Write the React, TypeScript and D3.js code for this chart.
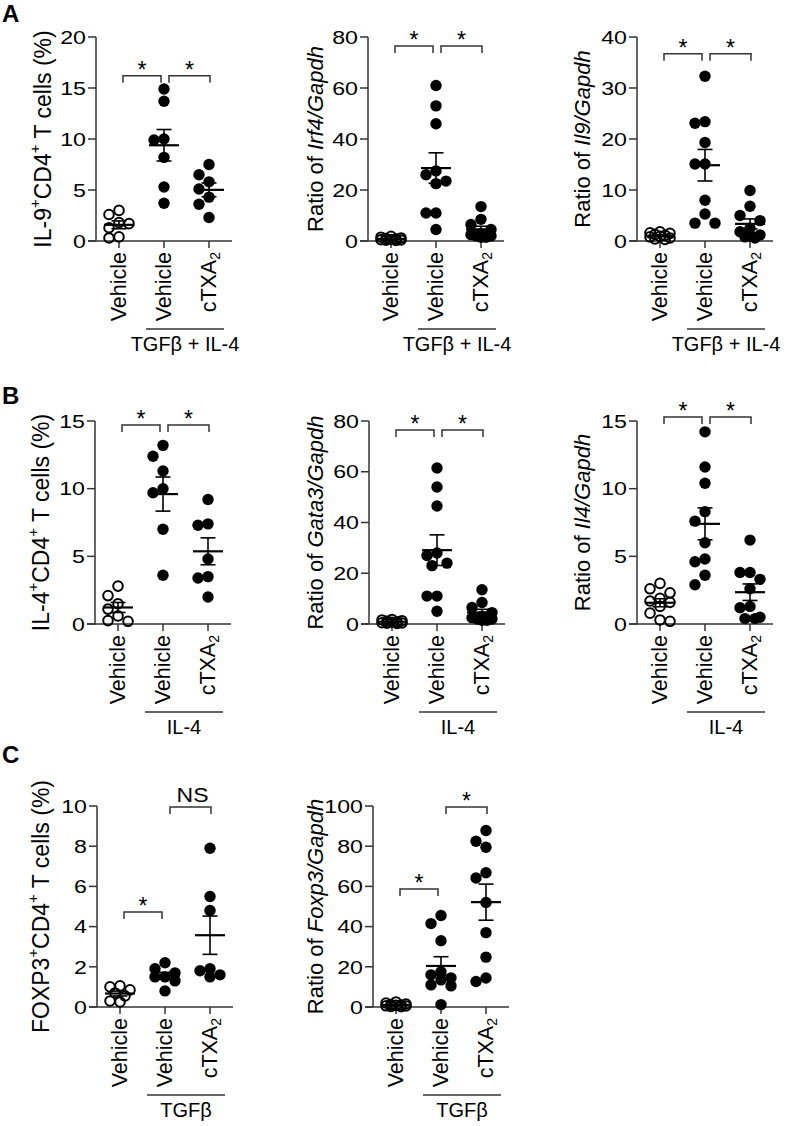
import React from "react";
import * as d3 from "d3";

// ---------- DATA ----------
const categoryLabels = ["Vehicle", "Vehicle", "cTXA|2"]; // "|2" = subscript 2

const ticks20 = [0, 5, 10, 15, 20];
const ticks80 = [0, 20, 40, 60, 80];
const ticks40 = [0, 10, 20, 30, 40];
const ticks15 = [0, 5, 10, 15];
const ticks10 = [0, 2, 4, 6, 8, 10];
const ticks100 = [0, 20, 40, 60, 80, 100];

// Panel A
const a1Vehicle = [3.0, 2.6, 1.8, 1.7, 1.3, 0.4, 0.3];
const a1TgfIl4Vehicle = [14.9, 13.7, 10.0, 9.9, 8.2, 5.3, 3.7];
const a1TgfIl4Ctxa = [7.5, 6.5, 5.8, 5.1, 4.3, 3.6, 2.3];
const a2Vehicle = [1.8, 1.5, 1.2, 1.0, 0.8, 0.6, 0.5, 0.4, 0.3, 0.2];
const a2TgfIl4Vehicle = [61, 53, 46, 27.5, 26, 23.5, 22.5, 11, 11, 4.5];
const a2TgfIl4Ctxa = [13.5, 8.5, 6.5, 4.5, 3, 2.5, 2, 2, 1.5, 1.5];
const a3Vehicle = [1.8, 1.6, 1.5, 1.3, 1.1, 0.9, 0.8, 0.6, 0.4, 0.3];
const a3TgfIl4Vehicle = [32.3, 23.4, 23.1, 19.3, 15.1, 15.1, 8.0, 5.3, 3.5, 3.5];
const a3TgfIl4Ctxa = [9.9, 6.8, 5.0, 4.0, 2.5, 1.8, 1.2, 1.0, 0.8, 0.6];

// Panel B
const b1Vehicle = [2.8, 2.1, 1.5, 1.1, 0.6, 0.25, 0.2];
const b1Il4Vehicle = [13.2, 12.4, 11.3, 10.0, 9.7, 7.0, 3.6];
const b1Il4Ctxa = [9.2, 7.4, 7.3, 4.8, 3.5, 3.4, 2.0];
const b2Vehicle = [1.8, 1.6, 1.3, 1.1, 0.9, 0.7, 0.5, 0.4, 0.3, 0.2];
const b2Il4Vehicle = [61.5, 54, 46.5, 28, 27, 24, 23, 11, 11, 5];
const b2Il4Ctxa = [13.5, 8.5, 6.5, 4.5, 3, 2.5, 2, 2, 1.5, 1.5];
const b3Vehicle = [3.0, 2.6, 2.3, 1.9, 1.7, 1.6, 1.3, 0.8, 0.3, 0.2];
const b3Il4Vehicle = [14.2, 11.6, 10.4, 8.3, 7.6, 6.0, 4.8, 4.6, 3.6, 2.9];
const b3Il4Ctxa = [6.2, 3.8, 3.8, 3.3, 2.6, 1.3, 1.2, 0.5, 0.4, 0.4];

// Panel C
const c1Vehicle = [1.05, 1.0, 0.85, 0.7, 0.55, 0.3, 0.25];
const c1TgfVehicle = [2.2, 1.9, 1.7, 1.5, 1.5, 1.3, 0.8];
const c1TgfCtxa = [7.9, 5.5, 4.8, 1.9, 1.8, 1.6, 1.5];
const c2Vehicle = [2.5, 2, 1.5, 1.2, 1, 0.8, 0.6, 0.5, 0.3, 0.2];
const c2TgfVehicle = [45.5, 41.5, 33, 17.5, 16, 14.5, 13.5, 11, 10.5, 1.2];
const c2TgfCtxa = [87.8, 82.5, 79.5, 66.8, 64.2, 52, 37, 24.8, 12.7, 14.4];

// label parts: [text, style] style: "" normal, "i" italic, "sup", "sub"
type Part = [string, string];
const lblIL9: Part[] = [["IL-9", ""], ["+", "sup"], ["CD4", ""], ["+", "sup"], [" T cells (%)", ""]];
const lblIrf4: Part[] = [["Ratio of ", ""], ["Irf4/Gapdh", "i"]];
const lblIl9: Part[] = [["Ratio of ", ""], ["Il9/Gapdh", "i"]];
const lblIL4: Part[] = [["IL-4", ""], ["+", "sup"], ["CD4", ""], ["+", "sup"], [" T cells (%)", ""]];
const lblGata3: Part[] = [["Ratio of ", ""], ["Gata3/Gapdh", "i"]];
const lblIl4: Part[] = [["Ratio of ", ""], ["Il4/Gapdh", "i"]];
const lblFOXP3: Part[] = [["FOXP3", ""], ["+", "sup"], ["CD4", ""], ["+", "sup"], [" T cells (%)", ""]];
const lblFoxp3: Part[] = [["Ratio of ", ""], ["Foxp3/Gapdh", "i"]];

const groupTgfIl4 = "TGFβ + IL-4";
const groupIl4 = "IL-4";
const groupTgf = "TGFβ";

// ---------- LAYOUT ----------
const FONT = "'Liberation Sans', Arial, Helvetica, sans-serif";
const AX = "#333";
const rows: Record<string, { y0: number; yTop: number; letterY: number }> = {
  A: { y0: 241, yTop: 37, letterY: 22 },
  B: { y0: 624, yTop: 421, letterY: 404 },
  C: { y0: 1007, yTop: 806, letterY: 763 },
};

type Bracket = { a: number; b: number; v: number; t: string };
type PanelDef = {
  row: string; axisX: number; labelX: number; yMax: number; ticks: number[];
  yLabel: Part[]; labelSize: number; groups: number[][]; brackets: Bracket[]; group: string;
};

const panels: PanelDef[] = [
  { row: "A", axisX: 96, labelX: 43, yMax: 20, ticks: ticks20, yLabel: lblIL9, labelSize: 23,
    groups: [a1Vehicle, a1TgfIl4Vehicle, a1TgfIl4Ctxa],
    brackets: [{ a: 0, b: 1, v: 16.2, t: "*" }, { a: 1, b: 2, v: 16.2, t: "*" }], group: groupTgfIl4 },
  { row: "A", axisX: 368, labelX: 315, yMax: 80, ticks: ticks80, yLabel: lblIrf4, labelSize: 22,
    groups: [a2Vehicle, a2TgfIl4Vehicle, a2TgfIl4Ctxa],
    brackets: [{ a: 0, b: 1, v: 76.5, t: "*" }, { a: 1, b: 2, v: 76.5, t: "*" }], group: groupTgfIl4 },
  { row: "A", axisX: 637, labelX: 582, yMax: 40, ticks: ticks40, yLabel: lblIl9, labelSize: 22,
    groups: [a3Vehicle, a3TgfIl4Vehicle, a3TgfIl4Ctxa],
    brackets: [{ a: 0, b: 1, v: 36.7, t: "*" }, { a: 1, b: 2, v: 36.7, t: "*" }], group: groupTgfIl4 },
  { row: "B", axisX: 95, labelX: 41, yMax: 15, ticks: ticks15, yLabel: lblIL4, labelSize: 23,
    groups: [b1Vehicle, b1Il4Vehicle, b1Il4Ctxa],
    brackets: [{ a: 0, b: 1, v: 14.7, t: "*" }, { a: 1, b: 2, v: 14.7, t: "*" }], group: groupIl4 },
  { row: "B", axisX: 369, labelX: 315, yMax: 80, ticks: ticks80, yLabel: lblGata3, labelSize: 22,
    groups: [b2Vehicle, b2Il4Vehicle, b2Il4Ctxa],
    brackets: [{ a: 0, b: 1, v: 76.5, t: "*" }, { a: 1, b: 2, v: 76.5, t: "*" }], group: groupIl4 },
  { row: "B", axisX: 637, labelX: 582, yMax: 15, ticks: ticks15, yLabel: lblIl4, labelSize: 22,
    groups: [b3Vehicle, b3Il4Vehicle, b3Il4Ctxa],
    brackets: [{ a: 0, b: 1, v: 15.3, t: "*" }, { a: 1, b: 2, v: 15.3, t: "*" }], group: groupIl4 },
  { row: "C", axisX: 97, labelX: 41, yMax: 10, ticks: ticks10, yLabel: lblFOXP3, labelSize: 23,
    groups: [c1Vehicle, c1TgfVehicle, c1TgfCtxa],
    brackets: [{ a: 0, b: 1, v: 4.73, t: "*" }, { a: 1, b: 2, v: 9.95, t: "NS" }], group: groupTgf },
  { row: "C", axisX: 373, labelX: 315, yMax: 100, ticks: ticks100, yLabel: lblFoxp3, labelSize: 22,
    groups: [c2Vehicle, c2TgfVehicle, c2TgfCtxa],
    brackets: [{ a: 0, b: 1, v: 58.7, t: "*" }, { a: 1, b: 2, v: 99.5, t: "*" }], group: groupTgf },
];

const R = 5.7;

function swarm(vals: number[], y: (v: number) => number) {
  const order = d3.range(vals.length).sort((a, b) => vals[b] - vals[a]);
  const offs = new Array(vals.length).fill(0);
  const placed: { dx: number; py: number }[] = [];
  const cands = [0, -10, 10, -5, 5];
  for (const i of order) {
    const py = y(vals[i]);
    let best = 0, bestD = -1;
    for (const c of cands) {
      let m = Infinity;
      for (const q of placed) m = Math.min(m, Math.hypot(q.dx - c, q.py - py));
      if (m >= 2 * R) { best = c; break; }
      if (m > bestD) { bestD = m; best = c; }
    }
    offs[i] = best;
    placed.push({ dx: best, py });
  }
  return offs;
}

function renderParts(parts: Part[], base: number) {
  let shift = 0;
  return parts.map(([t, s], i) => {
    let target = 0;
    if (s === "sup") target = -0.4 * base;
    if (s === "sub") target = 0.3 * base;
    const dy = target - shift;
    shift = target;
    return (
      <tspan key={i} dy={dy || undefined}
        fontSize={s === "sup" || s === "sub" ? base * 0.65 : undefined}
        fontStyle={s === "i" ? "italic" : undefined}>{t}</tspan>
    );
  });
}

function catParts(label: string): Part[] {
  const [main, sub] = label.split("|");
  return sub ? [[main, ""], [sub, "sub"]] : [[main, ""]];
}

function Panel({ p }: { p: PanelDef }) {
  const row = rows[p.row];
  const y = d3.scaleLinear().domain([0, p.yMax]).range([row.y0, row.yTop]);
  const x = d3.scalePoint<number>().domain([0, 1, 2]).range([p.axisX + 23, p.axisX + 113]);
  const xEnd = p.axisX + 136;
  const midY = (row.y0 + row.yTop) / 2;
  const gx1 = x(1)! - 18, gx2 = x(2)! + 15;
  const gy = row.y0 + 88;
  return (
    <g>
      {/* axes */}
      <line x1={p.axisX} x2={p.axisX} y1={y(p.yMax)} y2={row.y0} stroke={AX} strokeWidth={1.5} />
      <line x1={p.axisX - 8} x2={xEnd} y1={row.y0} y2={row.y0} stroke={AX} strokeWidth={1.5} />
      {p.ticks.map((t) => (
        <g key={t}>
          <line x1={p.axisX - 8} x2={p.axisX} y1={y(t)} y2={y(t)} stroke={AX} strokeWidth={1.5} />
          <text transform={`translate(${p.axisX - 10},${y(t)}) scale(1.22,1)`} textAnchor="end"
            dominantBaseline="central" fontSize={19}>{t}</text>
        </g>
      ))}
      {[0, 1, 2].map((i) => (
        <g key={i}>
          <line x1={x(i)} x2={x(i)} y1={row.y0} y2={row.y0 + 7} stroke={AX} strokeWidth={1.5} />
          <text transform={`translate(${x(i)},${row.y0 + 11}) rotate(-90)`} textAnchor="end"
            dominantBaseline="central" fontSize={21.5}>{renderParts(catParts(categoryLabels[i]), 21.5)}</text>
        </g>
      ))}
      {/* y label */}
      <text transform={`translate(${p.labelX},${midY}) rotate(-90)`} textAnchor="middle"
        dominantBaseline="central" fontSize={p.labelSize}>{renderParts(p.yLabel, p.labelSize)}</text>
      {/* group label */}
      <line x1={gx1} x2={gx2} y1={gy} y2={gy} stroke={AX} strokeWidth={1.5} />
      <text x={(gx1 + gx2) / 2} y={gy + 22} textAnchor="middle" fontSize={20}>{p.group}</text>
      {/* points */}
      {p.groups.map((vals, gi) => {
        const offs = swarm(vals, y);
        return (
          <g key={gi}>
            {vals.map((v, k) => (
              <circle key={k} cx={x(gi)! + offs[k]} cy={y(v)} r={gi === 0 ? R - 0.9 : R}
                fill={gi === 0 ? "none" : "#000"} stroke="#000" strokeWidth={gi === 0 ? 2 : 0} />
            ))}
          </g>
        );
      })}
      {/* mean ± SEM */}
      {p.groups.map((vals, gi) => {
        const m = d3.mean(vals)!;
        const sem = d3.deviation(vals)! / Math.sqrt(vals.length);
        const cx = x(gi)!;
        return (
          <g key={"e" + gi} stroke="#000">
            <line x1={cx - 15} x2={cx + 15} y1={y(m)} y2={y(m)} strokeWidth={2.2} />
            <line x1={cx} x2={cx} y1={y(m + sem)} y2={y(m - sem)} strokeWidth={1.6} />
            <line x1={cx - 7.5} x2={cx + 7.5} y1={y(m + sem)} y2={y(m + sem)} strokeWidth={1.6} />
            <line x1={cx - 7.5} x2={cx + 7.5} y1={y(m - sem)} y2={y(m - sem)} strokeWidth={1.6} />
          </g>
        );
      })}
      {/* brackets */}
      {p.brackets.map((b, bi) => {
        const x1 = b.b === 1 ? x(b.a)! + 4 : x(b.a)! + 5;
        const x2 = b.b === 1 ? x(b.b)! - 3 : x(b.b)! + 1;
        const by = y(b.v);
        return (
          <g key={"b" + bi}>
            <path d={`M${x1},${by + 7}V${by}H${x2}V${by + 7}`} fill="none" stroke={AX} strokeWidth={1.5} />
            {b.t === "*" ? (
              <text x={(x1 + x2) / 2} y={by + 2} textAnchor="middle" fontSize={23}>*</text>
            ) : (
              <text transform={`translate(${(x1 + x2) / 2 + 2},${by - 5}) scale(1.15,1)`} textAnchor="middle" fontSize={20}>{b.t}</text>
            )}
          </g>
        );
      })}
    </g>
  );
}

export default function App() {
  return (
    <svg width={791} height={1126} style={{ position: "absolute", left: 0, top: 0, background: "#fff" }}
      fontFamily={FONT} fill="#000">
      <rect width={791} height={1126} fill="#fff" />
      {Object.entries(rows).map(([k, r]) => (
        <text key={k} x={2} y={r.letterY} fontSize={24} fontWeight="bold">{k}</text>
      ))}
      {panels.map((p, i) => <Panel key={i} p={p} />)}
    </svg>
  );
}
